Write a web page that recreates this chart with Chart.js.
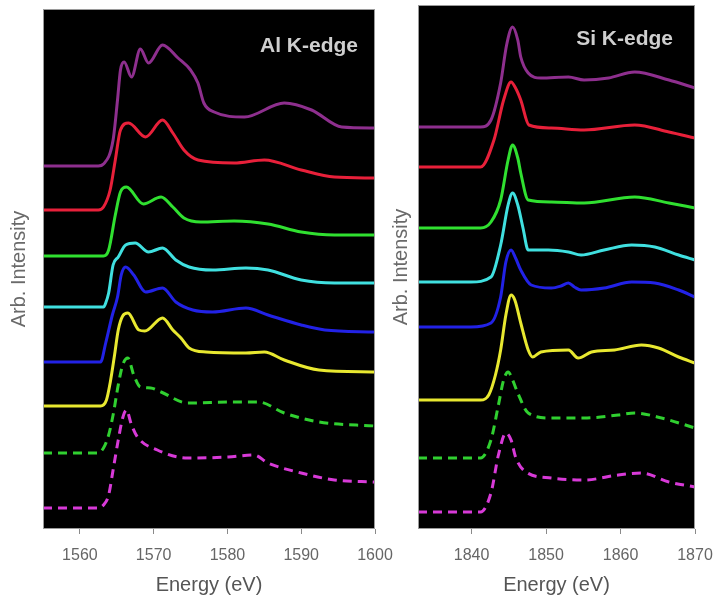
<!DOCTYPE html>
<html>
<head>
<meta charset="utf-8">
<script src="https://cdn.jsdelivr.net/npm/chart.js@4.4.1/dist/chart.umd.min.js"></script>
<style>
  html, body { margin: 0; padding: 0; background: #ffffff; }
  body { width: 716px; height: 598px; position: relative; overflow: hidden; }
  #wrapL { position: absolute; left: 0; top: 0; width: 400px; height: 598px; }
  #wrapR { position: absolute; left: 388px; top: 0; width: 328px; height: 598px; }
</style>
</head>
<body>
<div id="wrapL"><canvas id="al"></canvas></div>
<div id="wrapR"><canvas id="si"></canvas></div>
<script>
// ---------- Data (energy eV, arbitrary intensity) ----------
const alTicks = [1560, 1570, 1580, 1590, 1600];
const siTicks = [1840, 1850, 1860, 1870];

// Al K-edge spectra (stacked, top to bottom)
const alPurple = [[1555,36.3],[1562.5,36.3],[1563.2,36.5],[1564.5,38.9],[1565.1,42.9],[1565.5,45.9],[1566.0,46.7],[1567.0,45.2],[1568.2,48.0],[1569.3,46.6],[1571.2,48.4],[1573.3,47.1],[1575.0,45.9],[1576.0,44.6],[1576.8,42.6],[1578.2,41.7],[1582.3,41.2],[1587.7,42.6],[1591.4,41.9],[1595.5,40.2],[1600,40.1]];
const alRed = [[1555,31.9],[1562.5,31.9],[1563.2,32.2],[1564.1,33.9],[1564.8,36.9],[1565.5,39.9],[1566.6,40.6],[1568.9,39.2],[1571.2,40.9],[1572.6,39.6],[1574.1,37.9],[1576.0,36.9],[1580.9,36.6],[1585.0,36.9],[1590.0,35.9],[1594.5,35.2],[1600,35.1]];
const alGreen = [[1555,27.3],[1563.2,27.3],[1563.9,27.9],[1564.8,31.4],[1565.5,33.7],[1566.3,34.2],[1568.6,32.5],[1571.0,33.2],[1572.6,32.2],[1574.1,31.1],[1576.4,30.7],[1580.9,30.8],[1585.5,30.5],[1590.0,29.7],[1594.5,29.4],[1600,29.4]];
const alCyan = [[1555,22.2],[1563.2,22.2],[1563.5,22.6],[1563.9,23.6],[1564.5,26.4],[1565.2,27.2],[1566.2,28.4],[1567.5,28.6],[1569.3,27.7],[1571.2,28.1],[1573.0,26.9],[1574.8,26.2],[1578.0,25.9],[1582.5,26.1],[1585.5,25.9],[1590.0,24.9],[1594.5,24.6],[1600,24.6]];
const alBlue = [[1555,16.7],[1562.8,16.7],[1563.5,18.6],[1564.4,21.4],[1565.1,23.2],[1565.6,25.4],[1566.2,26.2],[1567.3,25.4],[1568.9,23.7],[1571.2,24.1],[1573.0,22.7],[1575.3,21.9],[1578.0,21.7],[1582.5,22.1],[1585.5,21.4],[1590.0,20.4],[1593.2,19.9],[1600,19.7]];
const alYellow = [[1555,12.3],[1562.8,12.3],[1563.6,12.9],[1564.1,14.6],[1564.7,17.4],[1565.2,19.9],[1565.8,21.3],[1566.5,21.6],[1568.0,19.9],[1568.8,19.8],[1571.2,21.1],[1572.6,19.9],[1573.7,19.1],[1574.8,18.1],[1577.1,17.7],[1582.5,17.6],[1585.0,17.7],[1587.7,16.9],[1592.4,15.9],[1600,15.7]];
const alGreenDash = [[1555,7.6],[1562.4,7.6],[1563.2,8.1],[1563.9,9.4],[1564.5,11.4],[1565.2,14.4],[1565.8,16.4],[1566.5,17.1],[1567.3,15.4],[1568.2,14.2],[1569.6,14.1],[1571.0,13.7],[1574.6,12.6],[1580.9,12.7],[1584.2,12.7],[1587.7,11.6],[1592.4,10.7],[1600,10.3]];
const alMagentaDash = [[1555,2.1],[1562.4,2.1],[1563.2,2.4],[1563.9,3.4],[1564.5,5.9],[1565.2,8.9],[1565.8,11.1],[1566.3,11.9],[1567.0,10.4],[1567.8,9.2],[1570.5,7.9],[1574.6,7.1],[1580.1,7.2],[1583.6,7.4],[1585.5,6.6],[1590.0,5.6],[1594.5,4.9],[1600,4.7]];

// Si K-edge spectra (stacked, top to bottom)
const siPurple = [[1832.8,40.2],[1841.2,40.2],[1842.6,40.9],[1843.9,44.6],[1844.7,48.4],[1845.5,50.2],[1846.2,48.9],[1846.6,47.2],[1847.6,45.6],[1849.3,45.1],[1853.0,45.2],[1855.1,44.9],[1858.4,45.1],[1861.9,45.7],[1866.5,44.9],[1870,44.1]];
const siRed = [[1832.8,36.2],[1841.2,36.2],[1843.0,38.9],[1844.3,42.9],[1845.3,44.7],[1845.9,44.1],[1846.6,42.9],[1847.7,40.4],[1850.7,40.1],[1855.1,39.9],[1861.9,40.4],[1866.5,39.7],[1870,39.1]];
const siGreen = [[1832.8,30.1],[1841.2,30.1],[1842.6,30.7],[1843.9,32.9],[1844.9,36.9],[1845.5,38.4],[1846.2,37.1],[1846.6,35.6],[1847.6,32.9],[1850.7,32.7],[1855.1,32.6],[1861.9,33.2],[1866.5,32.6],[1870,32.1]];
const siCyan = [[1832.8,24.7],[1839.9,24.7],[1842.6,25.2],[1843.9,28.4],[1844.9,32.4],[1845.5,33.6],[1846.2,32.4],[1846.9,30.1],[1847.6,27.9],[1850.3,27.9],[1853.0,27.7],[1854.7,27.4],[1857.8,27.9],[1861.5,28.4],[1864.6,28.2],[1867.8,27.4],[1870,26.9]];
const siBlue = [[1832.8,20.2],[1839.9,20.2],[1842.6,20.6],[1843.9,23.2],[1844.6,26.7],[1845.3,27.9],[1845.9,27.1],[1846.6,25.9],[1848.0,24.4],[1850.7,24.1],[1852.0,24.3],[1853.0,24.6],[1853.8,24.2],[1854.7,23.9],[1857.8,24.1],[1861.5,24.7],[1864.6,24.6],[1867.8,23.9],[1870,23.2]];
const siYellow = [[1832.8,12.9],[1841.2,12.9],[1842.3,13.4],[1843.2,15.4],[1843.9,17.9],[1844.6,21.4],[1845.3,23.4],[1845.8,22.9],[1846.6,20.6],[1847.6,17.9],[1848.2,17.2],[1849.3,17.7],[1853.0,17.9],[1854.3,17.1],[1856.1,17.7],[1859.2,17.9],[1862.8,18.4],[1865.1,18.1],[1867.8,17.2],[1870,16.6]];
const siGreenDash = [[1832.8,7.1],[1841.2,7.1],[1842.6,8.9],[1843.6,12.4],[1844.3,14.9],[1844.9,15.7],[1845.5,14.9],[1846.2,13.6],[1847.6,11.6],[1850.7,11.1],[1855.1,11.1],[1859.7,11.4],[1861.9,11.6],[1865.5,11.1],[1870,10.1]];
const siMagentaDash = [[1832.8,1.7],[1841.2,1.7],[1842.6,3.6],[1843.6,7.4],[1844.6,9.6],[1845.3,8.9],[1845.9,7.2],[1847.3,5.7],[1850.7,5.1],[1855.1,4.9],[1859.7,5.4],[1862.8,5.6],[1866.5,4.7],[1870,4.2]];

// ---------- Styles ----------
const FONT = "'Liberation Sans', Arial, sans-serif";
const styles = [
  { color: '#8e2f8e', dash: [] },
  { color: '#e8203a', dash: [] },
  { color: '#30e030', dash: [] },
  { color: '#40e0e0', dash: [] },
  { color: '#2222e6', dash: [] },
  { color: '#e8e830', dash: [] },
  { color: '#30d030', dash: [9, 6] },
  { color: '#d83ad8', dash: [9, 6] }
];

function makeDatasets(seriesList) {
  return seriesList.map((s, i) => ({
    data: s.map(p => ({ x: p[0], y: p[1] })),
    borderColor: styles[i].color,
    borderDash: styles[i].dash,
    borderWidth: 3,
    pointRadius: 0,
    tension: 0.4,
    cubicInterpolationMode: 'monotone',
    fill: false
  }));
}

const panelPlugin = {
  id: 'panel',
  beforeDatasetsDraw(chart) {
    const { ctx, chartArea: a } = chart;
    ctx.save();
    ctx.fillStyle = '#000000';
    ctx.fillRect(a.left, a.top, a.right - a.left, a.bottom - a.top);
    ctx.restore();
  },
  afterDraw(chart, args, opts) {
    const { ctx, chartArea: a } = chart;
    ctx.save();
    ctx.strokeStyle = '#9a9a9a';
    ctx.lineWidth = 1;
    ctx.strokeRect(a.left + 0.5, a.top + 0.5, a.right - a.left - 1, a.bottom - a.top - 1);
    ctx.fillStyle = '#cfcfcf';
    ctx.font = 'bold 21px ' + FONT;
    ctx.textBaseline = 'alphabetic';
    ctx.textAlign = 'right';
    ctx.fillText(opts.label, a.right - opts.dx, a.top + opts.dy);
    ctx.restore();
  }
};

function makeChart(id, seriesList, xmin, xmax, ymax, ticks, padL, padT, padR, yWidth, label, dx, dy) {
  return new Chart(document.getElementById(id), {
    type: 'line',
    data: { datasets: makeDatasets(seriesList) },
    options: {
      responsive: true,
      maintainAspectRatio: false,
      animation: false,
      layout: { padding: { left: padL, top: padT, right: padR, bottom: 0 } },
      plugins: {
        legend: { display: false },
        tooltip: { enabled: false },
        panel: { label: label, dx: dx, dy: dy }
      },
      scales: {
        x: {
          type: 'linear',
          min: xmin,
          max: xmax,
          afterBuildTicks: s => { s.ticks = ticks.map(v => ({ value: v })); },
          afterFit: s => { s.height = 69; s.paddingLeft = 0; s.paddingRight = 0; },
          grid: { drawOnChartArea: false, drawTicks: true, tickLength: 5, color: '#8a8a8a' },
          border: { display: false },
          ticks: { color: '#666666', font: { size: 16, family: FONT }, padding: 12, maxRotation: 0,
                   callback: v => String(v) },
          title: { display: true, text: 'Energy (eV)', color: '#555555', font: { size: 20, family: FONT }, padding: { top: 0, bottom: 1 } }
        },
        y: {
          type: 'linear',
          min: 0,
          max: ymax,
          afterFit: s => { s.width = yWidth; s.paddingTop = 0; s.paddingBottom = 0; },
          grid: { display: false },
          border: { display: false },
          ticks: { display: false },
          title: { display: true, text: 'Arb. Intensity', color: '#6a6a6a', font: { size: 20, family: FONT }, padding: { top: 1, bottom: 0 } }
        }
      }
    },
    plugins: [panelPlugin]
  });
}

makeChart('al', [alPurple, alRed, alGreen, alCyan, alBlue, alYellow, alGreenDash, alMagentaDash],
  1555, 1600, 52, alTicks, 6, 9, 25, 37, 'Al K-edge', 17, 43);
makeChart('si', [siPurple, siRed, siGreen, siCyan, siBlue, siYellow, siGreenDash, siMagentaDash],
  1832.8, 1870, 52.4, siTicks, 0, 5, 21, 30, 'Si K-edge', 22, 40);
</script>
</body>
</html>
